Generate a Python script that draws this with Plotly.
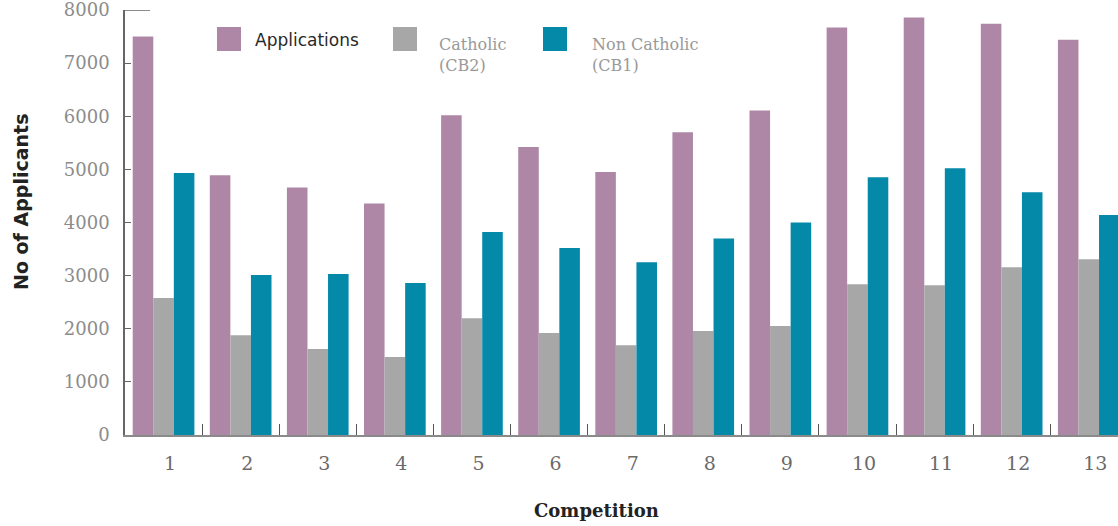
import plotly.graph_objects as go

# Applicant counts per recruitment competition
competitions = list(range(1, 14))
competition_labels = [str(c) for c in competitions]
applications = [7500, 4890, 4660, 4360, 6020, 5420, 4950, 5700, 6110, 7670, 7860, 7740, 7440]
catholic_cb2 = [2580, 1880, 1620, 1470, 2200, 1920, 1690, 1960, 2050, 2840, 2820, 3160, 3310]
non_catholic_cb1 = [4930, 3010, 3030, 2860, 3820, 3520, 3250, 3700, 4000, 4850, 5020, 4570, 4140]

y_ticks = [0, 1000, 2000, 3000, 4000, 5000, 6000, 7000, 8000]

series_names = ["Applications", "Catholic<br>(CB2)", "Non Catholic<br>(CB1)"]
series_colors = ["#ae87a7", "#a7a7a7", "#0489a9"]

W, H = 1118, 526
L, R, T, B = 125, 0, 10, 91
plot_w = W - L - R
plot_h = H - T - B


def px_x(x):
    return (x - L) / plot_w


def px_y(y):
    return (H - B - y) / plot_h


fig = go.Figure()
for name, vals, col in zip(series_names, [applications, catholic_cb2, non_catholic_cb1], series_colors):
    fig.add_trace(go.Bar(
        x=competitions, y=vals, name=name.replace("<br>", " "),
        marker=dict(color=col, line=dict(width=0)),
        showlegend=False,
    ))

fig.update_layout(
    width=W, height=H,
    margin=dict(l=L, r=R, t=T, b=B),
    paper_bgcolor="white", plot_bgcolor="white",
    barmode="group", bargap=0.2, bargroupgap=0,
    xaxis=dict(
        range=[0.5, 0.5 + plot_w / 77.1],
        tickmode="array",
        tickvals=[c + 0.085 for c in competitions],
        ticktext=competition_labels,
        ticks="",
        ticklabelstandoff=10,
        showline=True, linecolor="#8a8a8a", linewidth=1.5,
        showgrid=False, zeroline=False,
        tickfont=dict(family="DejaVu Serif", size=19, color="#6a6a6a"),
        minor=dict(
            tickmode="array",
            tickvals=[c + 0.5 for c in competitions[:-1]],
            ticks="inside", ticklen=11, tickcolor="#555555", tickwidth=1.2,
            showgrid=False,
        ),
    ),
    yaxis=dict(
        range=[0, 8000],
        tickmode="array", tickvals=y_ticks,
        ticks="inside", ticklen=6, tickcolor="#666666",
        showline=True, linecolor="#666666", linewidth=1.5,
        showgrid=False, zeroline=False,
        ticklabelstandoff=10,
        ticklabeloverflow="allow",
        tickfont=dict(family="DejaVu Serif", size=18, color="#8c8c8c"),
    ),
    font=dict(family="DejaVu Sans"),
)

# longer top tick at the 8000 mark
fig.add_shape(type="line", xref="paper", yref="y", x0=0, x1=px_x(150), y0=8000, y1=8000,
              line=dict(color="#666666", width=1.5))

# axis titles
fig.add_annotation(text="<b>No of Applicants</b>", xref="paper", yref="paper",
                   x=px_x(21), y=px_y(202), xanchor="center", yanchor="middle",
                   textangle=-90, showarrow=False,
                   font=dict(family="DejaVu Sans", size=19, color="#222222"))
fig.add_annotation(text="<b>Competition</b>", xref="paper", yref="paper",
                   x=px_x(596), y=px_y(510), xanchor="center", yanchor="middle",
                   showarrow=False,
                   font=dict(family="DejaVu Serif", size=18, color="#222222"))

# legend: swatches and labels
swatch_x = [217, 393, 543]
label_x = [253, 437, 590]
label_y = [40, 55, 55]
label_fonts = [
    dict(family="DejaVu Sans", size=17, color="#2a2a2a"),
    dict(family="DejaVu Serif", size=16, color="#999999"),
    dict(family="DejaVu Serif", size=16, color="#999999"),
]
for sx, lx, ly, name, col, fnt in zip(swatch_x, label_x, label_y, series_names, series_colors, label_fonts):
    fig.add_shape(type="rect", xref="paper", yref="paper",
                  x0=px_x(sx), x1=px_x(sx + 24), y0=px_y(51), y1=px_y(27),
                  fillcolor=col, line=dict(width=0))
    fig.add_annotation(text=name, xref="paper", yref="paper",
                       x=px_x(lx), y=px_y(ly), xanchor="left", yanchor="middle",
                       align="left", showarrow=False, font=fnt)

fig.write_html("out.html")
